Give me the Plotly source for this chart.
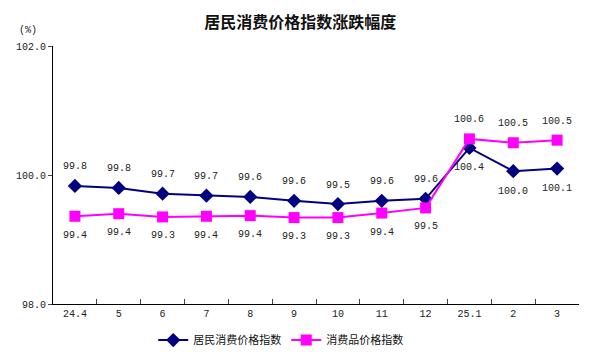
import plotly.graph_objects as go

title = "居民消费价格指数涨跌幅度"
categories = ["24.4", "5", "6", "7", "8", "9", "10", "11", "12", "25.1", "2", "3"]
cpi_values = [99.83, 99.80, 99.71, 99.68, 99.66, 99.60, 99.55, 99.60, 99.63, 100.42, 100.06, 100.10]
cpi_labels = ["99.8", "99.8", "99.7", "99.7", "99.6", "99.6", "99.5", "99.6", "99.6", "100.4", "100.0", "100.1"]
goods_values = [99.36, 99.40, 99.35, 99.36, 99.37, 99.34, 99.34, 99.41, 99.49, 100.56, 100.50, 100.54]
goods_labels = ["99.4", "99.4", "99.3", "99.4", "99.4", "99.3", "99.3", "99.4", "99.5", "100.6", "100.5", "100.5"]
cpi_name = "居民消费价格指数"
goods_name = "消费品价格指数"
y_ticks = [98, 100, 102]
y_ticktext = ["98.0", "100.0", "102.0"]

NAVY = "#000080"
MAGENTA = "#FF00FF"
NUMFONT = dict(family="Liberation Mono, monospace", size=10, color="#222222")
CJK = "Noto Sans CJK SC"

fig = go.Figure()
fig.add_trace(go.Scatter(
    x=categories, y=cpi_values, name=cpi_name, mode="lines+markers",
    line=dict(color=NAVY, width=2),
    marker=dict(symbol="diamond", size=11, color=NAVY),
))
fig.add_trace(go.Scatter(
    x=categories, y=goods_values, name=goods_name, mode="lines+markers",
    line=dict(color=MAGENTA, width=2),
    marker=dict(symbol="square", size=11, color=MAGENTA),
))

annotations = []
for i, (v, t) in enumerate(zip(cpi_values, cpi_labels)):
    above = v >= goods_values[i]
    annotations.append(dict(x=i, y=v, text=t, showarrow=False, font=NUMFONT,
                            yshift=19 if above else -20))
for i, (v, t) in enumerate(zip(goods_values, goods_labels)):
    above = v > cpi_values[i]
    annotations.append(dict(x=i, y=v, text=t, showarrow=False, font=NUMFONT,
                            yshift=19 if above else -19))
annotations.append(dict(xref="paper", yref="paper", x=-0.048, y=1.062, xanchor="center",
                        yanchor="middle", text="(%)", showarrow=False, font=NUMFONT))

fig.update_layout(
    width=600, height=359,
    margin=dict(l=45, r=29, t=38, b=63, autoexpand=False),
    paper_bgcolor="white", plot_bgcolor="white",
    title=dict(text="<b>" + title + "</b>", x=0.487, xanchor="center", y=0.961, yanchor="middle",
               font=dict(family=CJK, size=16, color="#111111")),
    showlegend=True,
    legend=dict(orientation="h", x=0.433, xanchor="center", y=-0.14, yanchor="middle",
                font=dict(family=CJK, size=11, color="#111111"),
                itemwidth=30, tracegroupgap=0, bgcolor="rgba(0,0,0,0)"),
    annotations=annotations,
)
fig.update_xaxes(
    type="category", range=[-0.5, len(categories) - 0.5],
    showline=True, linecolor="black", linewidth=1,
    ticks="inside", tickson="boundaries", ticklen=5, tickcolor="#444444",
    showgrid=False, zeroline=False, tickfont=NUMFONT,
)
fig.update_yaxes(
    range=[98, 102], tickvals=y_ticks, ticktext=y_ticktext,
    showline=True, linecolor="black", linewidth=1,
    ticks="outside", ticklen=4, tickcolor="#444444",
    showgrid=False, zeroline=False, tickfont=NUMFONT,
)

fig.write_html("out.html")
